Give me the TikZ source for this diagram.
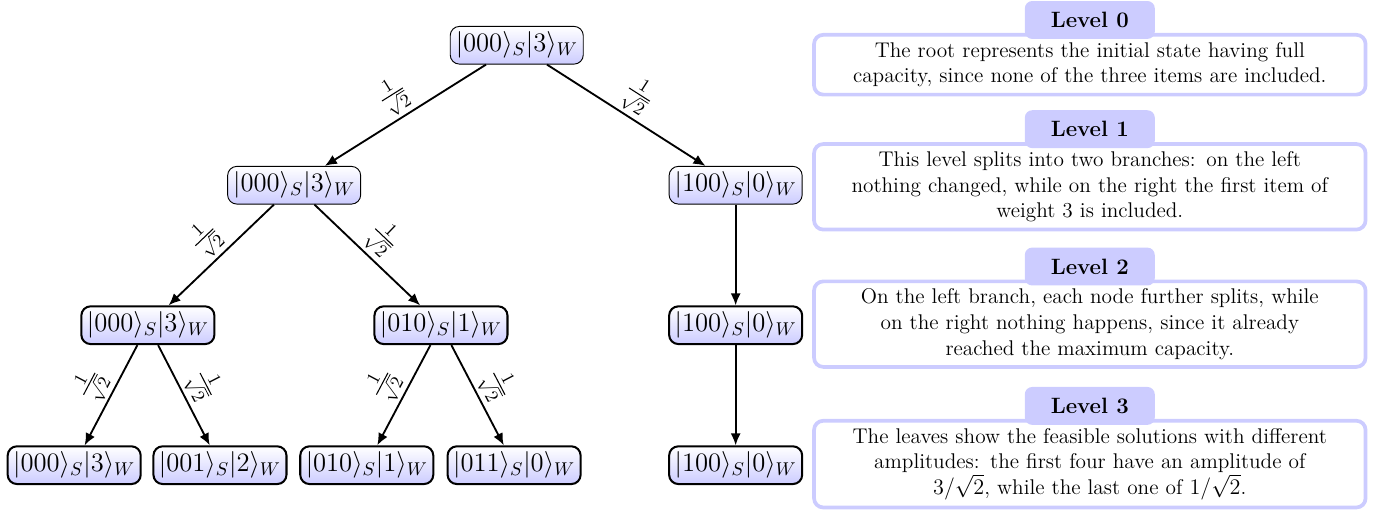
\documentclass[tikz,border=0pt]{standalone}
\usepackage{amsmath}
\usetikzlibrary{positioning,arrows,arrows.meta}
\tikzset{
  ket/.style={draw, rounded corners=5pt, top color=white, bottom color=blue!20,
    font=\Large, inner sep=3pt},
  thinket/.style={ket, line width=0.5pt},
  thickket/.style={ket, line width=1.1pt},
  branch/.style={-{Latex[length=6.5pt,width=5.5pt]}, line width=1pt},
  weight/.style={sloped, above, inner sep=1.5pt, font=\Large},
  descbox/.style={draw=blue!20, line width=2pt, rounded corners=5pt,
    text width=10.2cm, align=center, inner sep=4pt, fill=white,
    font=\fontsize{11.5pt}{13.9pt}\selectfont},
  leveltitle/.style={fill=blue!20, rounded corners=4pt,
    font=\fontsize{12pt}{14pt}\selectfont\bfseries,
    minimum width=2.47cm, minimum height=0.72cm, inner sep=2pt}
}
\newcommand{\halfamp}{$\frac{1}{\sqrt{2}}$}

\begin{document}
\begin{tikzpicture}
      \useasboundingbox (0,0) rectangle (26.13,-9.79);
      % level 0
      \node[thinket] (r) at (9.82,-0.86) {$|000\rangle_S|3\rangle_W$};
      % level 1
      \node[thinket] (a) at (5.59,-3.52) {$|000\rangle_S|3\rangle_W$};
      \node[thinket] (b) at (13.98,-3.52) {$|100\rangle_S|0\rangle_W$};
      % level 2
      \node[thickket] (aa) at (2.81,-6.18) {$|000\rangle_S|3\rangle_W$};
      \node[thickket] (ab) at (8.38,-6.18) {$|010\rangle_S|1\rangle_W$};
      \node[thickket] (bb) at (13.98,-6.18) {$|100\rangle_S|0\rangle_W$};
      % level 3 (leaves)
      \node[thickket] (aaa) at (1.41,-8.84) {$|000\rangle_S|3\rangle_W$};
      \node[thickket] (aab) at (4.18,-8.84) {$|001\rangle_S|2\rangle_W$};
      \node[thickket] (aba) at (6.97,-8.84) {$|010\rangle_S|1\rangle_W$};
      \node[thickket] (abb) at (9.77,-8.84) {$|011\rangle_S|0\rangle_W$};
      \node[thickket] (bbb) at (13.98,-8.84) {$|100\rangle_S|0\rangle_W$};
      % arrows
      \draw[branch] (r) -- node[weight] {\halfamp} (a);
      \draw[branch] (r) -- node[weight] {\halfamp} (b);
      \draw[branch] (a) -- node[weight] {\halfamp} (aa);
      \draw[branch] (a) -- node[weight] {\halfamp} (ab);
      \draw[branch] (b) -- (bb);
      \draw[branch] (aa) -- node[weight] {\halfamp} (aaa);
      \draw[branch] (aa) -- node[weight] {\halfamp} (aab);
      \draw[branch] (ab) -- node[weight] {\halfamp} (aba);
      \draw[branch] (ab) -- node[weight] {\halfamp} (abb);
      \draw[branch] (bb) -- (bbb);
      % descriptions
      \node[descbox] (d0) at (20.71,-1.23) {The root represents the initial state having full\\
        capacity, since none of the three items are included.};
      \node[descbox] (d1) at (20.71,-3.55) {This level splits into two branches: on the left\\
        nothing changed, while on the right the first item of\\ weight 3 is included.};
      \node[descbox] (d2) at (20.71,-6.16) {On the left branch, each node further splits, while\\
        on the right nothing happens, since it already\\ reached the maximum capacity.};
      \node[descbox] (d3) at (20.71,-8.82) {The leaves show the feasible solutions with different\\
        amplitudes: the first four have an amplitude of\\ $3/\sqrt{2}$, while the last one of $1/\sqrt{2}$.};
      % level titles
      \node[leveltitle, above=-0.12cm of d0] {Level 0};
      \node[leveltitle, above=-0.12cm of d1] {Level 1};
      \node[leveltitle, above=-0.12cm of d2] {Level 2};
      \node[leveltitle, above=-0.12cm of d3] {Level 3};
    \end{tikzpicture}
\end{document}
